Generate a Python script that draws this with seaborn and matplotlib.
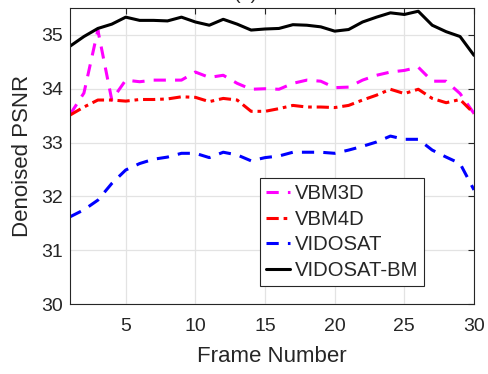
import numpy as np
import matplotlib
matplotlib.use("Agg")
import matplotlib.pyplot as plt
import pandas as pd
import seaborn as sns

## frame numbers and PSNR
frames = list(range(1, 31))
vbm3d = [33.52, 33.92, 35.09, 33.79, 34.16, 34.13, 34.16, 34.16, 34.16, 34.31,
         34.21, 34.25, 34.10, 33.99, 34.00, 33.99, 34.10, 34.16, 34.14, 34.02,
         34.03, 34.16, 34.25, 34.31, 34.34, 34.40, 34.14, 34.14, 33.91, 33.54]
vbm4d = [33.51, 33.66, 33.79, 33.79, 33.77, 33.80, 33.80, 33.81, 33.85, 33.84,
         33.76, 33.82, 33.79, 33.58, 33.58, 33.63, 33.69, 33.66, 33.66, 33.65,
         33.69, 33.79, 33.88, 33.99, 33.91, 33.99, 33.82, 33.74, 33.80, 33.54]
vidosat = [31.62, 31.75, 31.93, 32.24, 32.49, 32.61, 32.69, 32.73, 32.80, 32.80,
           32.72, 32.82, 32.77, 32.66, 32.72, 32.75, 32.82, 32.82, 32.82, 32.80,
           32.86, 32.93, 33.01, 33.12, 33.06, 33.06, 32.86, 32.73, 32.61, 32.12]
vidosat_bm = [34.79, 34.97, 35.12, 35.20, 35.33, 35.27, 35.27, 35.26, 35.33, 35.24,
              35.18, 35.29, 35.20, 35.09, 35.11, 35.12, 35.19, 35.18, 35.15, 35.07,
              35.10, 35.24, 35.33, 35.41, 35.38, 35.44, 35.18, 35.06, 34.97, 34.62]

sns.set_style("whitegrid")
plt.rcParams['font.family'] = ['Liberation Sans', 'DejaVu Sans']

fig = plt.figure(figsize=(4.88, 3.74), dpi=100)
ax = fig.add_axes([70/488, 1 - 304/374, 404/488, 296/374])

## one line per method, MATLAB style dashes
sns.lineplot(x=frames, y=vbm3d, ax=ax, color='#ff00ff', lw=2.2,
             linestyle=(0, (4, 3)), label='VBM3D')
sns.lineplot(x=frames, y=vbm4d, ax=ax, color='#ff0000', lw=2.2,
             linestyle=(0, (4, 1.6, 1.2, 1.6)), label='VBM4D')
sns.lineplot(x=frames, y=vidosat, ax=ax, color='#0000ff', lw=2.2,
             linestyle=(0, (4, 3)), label='VIDOSAT')
sns.lineplot(x=frames, y=vidosat_bm, ax=ax, color='black', lw=2.2,
             linestyle='-', label='VIDOSAT-BM')

ax.set_xlim(1, 30)
ax.set_ylim(30, 35.5)
ax.set_xticks([5, 10, 15, 20, 25, 30])
ax.set_yticks([30, 31, 32, 33, 34, 35])
ax.grid(True, color='#e3e3e3', lw=0.9)
for s in ax.spines.values():
    s.set_color('#262626')
    s.set_linewidth(0.8)
ax.tick_params(direction='in', length=4, width=0.8, top=True, right=True,
               labelsize=14, colors='#262626')
ax.tick_params(axis='x', pad=10)
ax.tick_params(axis='y', pad=5)
ax.set_xlabel("Frame Number", fontsize=16, color='#262626', labelpad=8)
ax.set_ylabel("Denoised PSNR", fontsize=16, color='#262626', labelpad=6)

leg = ax.legend(loc='lower left', bbox_to_anchor=(190/404, 18/296), fontsize=14.6,
                handlelength=1.2, handletextpad=0.2, borderpad=0.3,
                labelspacing=0.32, fancybox=False, framealpha=1, borderaxespad=0)
leg.get_frame().set_edgecolor('#262626')
leg.get_frame().set_linewidth(0.8)

fig.text(246/488, 1 - 3/374, "(a)", ha='center', va='bottom', fontsize=14, color='#262626')

fig.savefig("out.png", dpi=100)
